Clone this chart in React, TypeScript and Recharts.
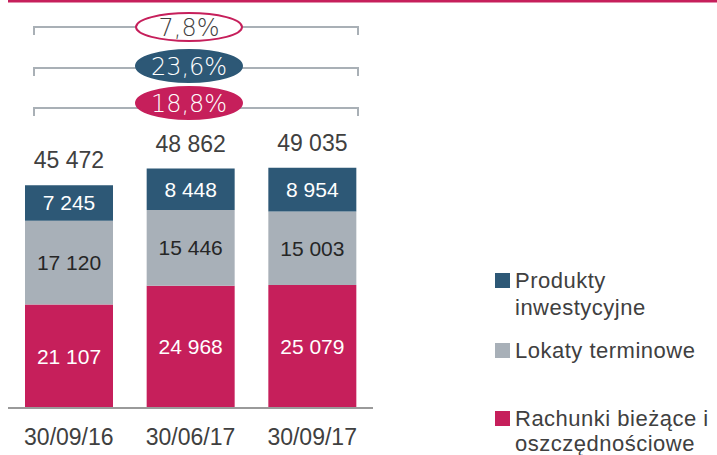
import { BarChart, Bar, XAxis, YAxis, LabelList } from "recharts";
import type { CSSProperties } from "react";

const categories = ["30/09/16", "30/06/17", "30/09/17"];
const rachunki = [21107, 24968, 25079];
const lokaty = [17120, 15446, 15003];
const produkty = [7245, 8448, 8954];
const totals = [45472, 48862, 49035];

// growth badges, top to bottom
const growthLabels = ["7,8%", "23,6%", "18,8%"];

const BLUE = "#2d5876";
const GRAY = "#a8b0b8";
const CRIMSON = "#c61f5b";
const TEXT = "#404040";
const FONT = "'Liberation Sans', Arial, sans-serif";

// legend: square colour + text lines with their baselines
const legendItems = [
  { color: BLUE, lines: ["Produkty", "inwestycyjne"], base: [288, 315] },
  { color: GRAY, lines: ["Lokaty terminowe"], base: [358] },
  { color: CRIMSON, lines: ["Rachunki bieżące i", "oszczędnościowe"], base: [426, 451] },
];

const fmt = (v: any) => String(v).replace(/\B(?=(\d{3})+(?!\d))/g, " ");

const data = categories.map((c, i) => ({
  name: c,
  rachunki: rachunki[i],
  lokaty: lokaty[i],
  produkty: produkty[i],
  total: totals[i],
}));

const badges = [
  { y: 27, cy: 27, fill: "#fff", stroke: CRIMSON, text: TEXT, ry: 14 },
  { y: 68, cy: 66, fill: BLUE, stroke: BLUE, text: "#fff", ry: 16 },
  { y: 108, cy: 103, fill: CRIMSON, stroke: CRIMSON, text: "#fff", ry: 16 },
];

function AxisTick(props: any) {
  const { x, y, payload } = props;
  return (
    <text x={x} y={y + 37} textAnchor="middle" fontSize={23} fill={TEXT} fontFamily={FONT}>
      {payload.value}
    </text>
  );
}

export default function App() {
  const wrap: CSSProperties = {
    position: "absolute",
    left: 0,
    top: 0,
    width: 717,
    height: 455,
    background: "#fff",
    fontFamily: FONT,
  };

  return (
    <div style={wrap}>
      <svg width={717} height={455} style={{ position: "absolute", left: 0, top: 0 }}>
        <rect x={8} y={0} width={709} height={2.5} fill={CRIMSON} />
        {badges.map((b, i) => (
          <g key={i}>
            <path
              d={`M34,${b.y + 8} L34,${b.y} L358,${b.y} L358,${b.y + 8}`}
              fill="none"
              stroke="#a9b0b6"
              strokeWidth={2}
            />
            <ellipse cx={189} cy={b.cy} rx={53} ry={b.ry} fill={b.fill} stroke={b.stroke} strokeWidth={2} />
            <text
              x={189}
              y={b.cy + 8.5}
              textAnchor="middle"
              fontSize={24}
              fill={b.text}
              fontFamily="'DejaVu Sans', sans-serif"
              fontWeight={200}
            >
              {growthLabels[i]}
            </text>
          </g>
        ))}
        {legendItems.map((it, i) => (
          <g key={i}>
            <rect x={495} y={it.base[0] - 15} width={15} height={15} fill={it.color} />
            {it.lines.map((l, j) => (
              <text key={j} x={515} y={it.base[j]} fontSize={22} letterSpacing={0.5} fill={TEXT} fontFamily={FONT}>
                {l}
              </text>
            ))}
          </g>
        ))}
      </svg>

      <div style={{ position: "absolute", left: 0, top: 0 }}>
        <BarChart
          width={717}
          height={455}
          data={data}
          margin={{ top: 163, right: 344, left: 8, bottom: 0 }}
          barSize={88}
        >
          <XAxis
            dataKey="name"
            height={47}
            tickLine={false}
            tickSize={0}
            tickMargin={0}
            axisLine={{ stroke: "#9a9a9a", strokeWidth: 2 }}
            tick={<AxisTick />}
            interval={0}
          />
          <YAxis hide domain={[0, 50000]} />
          <Bar dataKey="rachunki" stackId="a" fill={CRIMSON} isAnimationActive={false}>
            <LabelList dataKey="rachunki" position="center" formatter={fmt} fill="#fff" fontSize={21} fontFamily={FONT} />
          </Bar>
          <Bar dataKey="lokaty" stackId="a" fill={GRAY} isAnimationActive={false}>
            <LabelList dataKey="lokaty" position="center" formatter={fmt} fill="#262626" fontSize={21} fontFamily={FONT} />
          </Bar>
          <Bar dataKey="produkty" stackId="a" fill={BLUE} isAnimationActive={false}>
            <LabelList dataKey="produkty" position="center" formatter={fmt} fill="#fff" fontSize={21} fontFamily={FONT} />
            <LabelList dataKey="total" position="top" offset={17} formatter={fmt} fill={TEXT} fontSize={23} fontFamily={FONT} />
          </Bar>
        </BarChart>
      </div>
    </div>
  );
}
